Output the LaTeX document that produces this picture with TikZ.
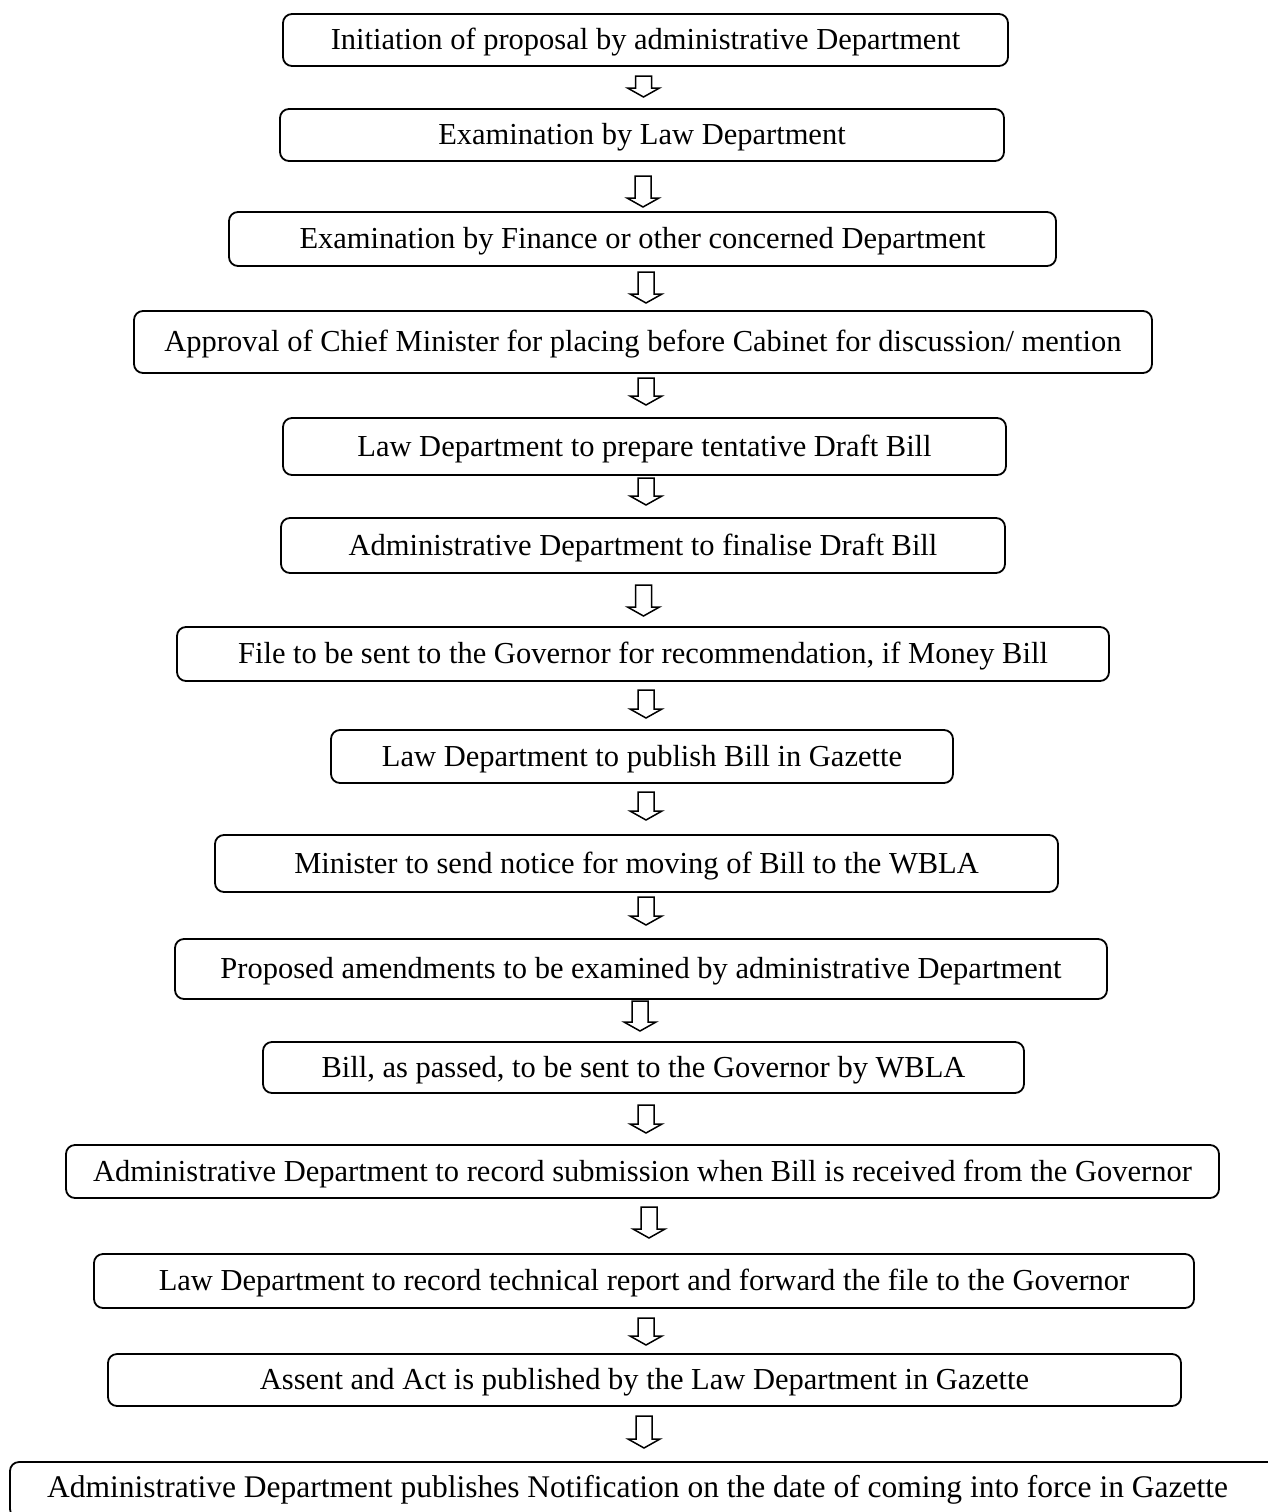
\documentclass[tikz,border=0pt]{standalone}
\usepackage{fontspec}
\setmainfont{Liberation Serif}
\tikzset{
  box/.style={draw, line width=1.8pt, rounded corners=9pt, inner sep=0pt,
    text height=23pt, text depth=4pt,
    font=\fontsize{30.5}{36}\selectfont},
  lbl/.style={inner sep=0pt, text height=23pt, text depth=4pt,
    font=\fontsize{31.5}{36}\selectfont},
  blk/.style={draw, line width=1.5pt, line join=miter}
}
% block arrow: x centre, y top, y tip
\newcommand\blockarrow[3]{%
  \draw[blk] (#1-8,#2) -- (#1+8,#2) -- (#1+8,#3-9) -- (#1+16,#3-9)
    -- (#1,#3) -- (#1-16,#3-9) -- (#1-8,#3-9) -- cycle;}
\begin{document}
\begin{tikzpicture}[x=1pt,y=-1pt]
\useasboundingbox (0,0) rectangle (1267,1512);
\node[box, minimum width=725pt, minimum height=52pt] (n1) at (645.5,40) {Initiation of proposal by administrative Department};
\node[box, minimum width=724pt, minimum height=52pt] (n2) at (642,135) {Examination by Law Department};
\node[box, minimum width=827pt, minimum height=54pt] (n3) at (642.5,239) {Examination by Finance or other concerned Department};
\node[box, minimum width=1018pt, minimum height=62pt] (n4) at (643,342) {Approval of Chief Minister for placing before Cabinet for discussion/ mention};
\node[box, minimum width=723pt, minimum height=57pt] (n5) at (644.5,446.5) {Law Department to prepare tentative Draft Bill};
\node[box, minimum width=724pt, minimum height=55pt] (n6) at (643,545.5) {Administrative Department to finalise Draft Bill};
\node[box, minimum width=932pt, minimum height=54pt] (n7) at (643,654) {File to be sent to the Governor for recommendation, if Money Bill};
\node[box, minimum width=622pt, minimum height=53pt] (n8) at (642,756.5) {Law Department to publish Bill in Gazette};
\node[box, minimum width=843pt, minimum height=57pt] (n9) at (636.5,863.5) {Minister to send notice for moving of Bill to the WBLA};
\node[box, minimum width=932pt, minimum height=60pt] (n10) at (641,969) {Proposed amendments to be examined by administrative Department};
\node[box, minimum width=761pt, minimum height=51pt] (n11) at (643.5,1067.5) {Bill, as passed, to be sent to the Governor by WBLA};
\node[box, minimum width=1153pt, minimum height=53pt] (n12) at (642.5,1171.5) {Administrative Department to record submission when Bill is received from the Governor};
\node[box, minimum width=1100pt, minimum height=54pt] (n13) at (644,1281) {Law Department to record technical report and forward the file to the Governor};
\node[box, minimum width=1073pt, minimum height=52pt] (n14) at (644.5,1380) {Assent and Act is published by the Law Department in Gazette};
\node[box, minimum width=1300pt, minimum height=56pt] (n15) at (660,1490) {};
\node[lbl] (t15) at (637.5,1488) {Administrative Department publishes Notification on the date of coming into force in Gazette};
\blockarrow{643.5}{76}{97}
\blockarrow{643}{176}{207}
\blockarrow{646}{272}{303}
\blockarrow{646}{378}{405}
\blockarrow{646}{478}{505}
\blockarrow{643.5}{585}{616}
\blockarrow{646}{690}{718}
\blockarrow{646}{792}{820}
\blockarrow{646}{897}{925}
\blockarrow{640}{1001}{1031}
\blockarrow{646}{1105}{1133}
\blockarrow{649}{1207}{1238}
\blockarrow{646}{1318}{1345}
\blockarrow{644}{1416}{1448}
\end{tikzpicture}
\end{document}
